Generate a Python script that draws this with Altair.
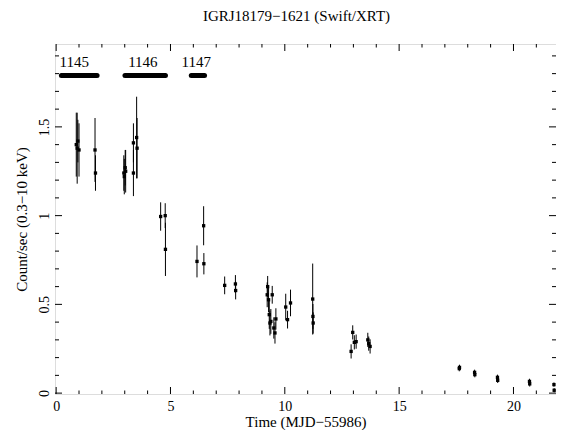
import altair as alt
import pandas as pd

# Light-curve data (Time in MJD-55986, Count/sec 0.3-10 keV, 1-sigma error)
t = [0.88, 0.92, 0.95, 1.00, 1.70, 1.72, 2.96, 2.98, 3.02, 3.04, 3.38, 3.38,
     3.52, 3.54, 4.57, 4.77, 4.78, 6.16, 6.45, 6.46, 7.37, 7.84, 7.85,
     9.23, 9.25, 9.29, 9.32, 9.35, 9.39, 9.45, 9.52, 9.57, 9.61,
     10.04, 10.12, 10.25, 11.22, 11.23, 11.24, 12.90, 12.97, 13.04, 13.12,
     13.63, 13.67, 13.73, 17.63, 17.64, 18.30, 18.31, 19.30, 19.31,
     20.70, 20.71, 21.77, 21.78]
rate = [1.40, 1.38, 1.42, 1.37, 1.37, 1.24, 1.24, 1.22, 1.27, 1.25, 1.41, 1.24,
        1.44, 1.38, 0.995, 1.0, 0.81, 0.742, 0.943, 0.729, 0.607, 0.615, 0.578,
        0.554, 0.60, 0.526, 0.442, 0.395, 0.404, 0.554, 0.367, 0.339, 0.418,
        0.485, 0.414, 0.508, 0.53, 0.432, 0.395, 0.235, 0.342, 0.286, 0.29,
        0.30, 0.279, 0.263, 0.138, 0.145, 0.117, 0.104, 0.089, 0.072,
        0.066, 0.052, 0.048, 0.016]
err = [0.18, 0.2, 0.12, 0.15, 0.18, 0.1, 0.1, 0.1, 0.1, 0.12, 0.11, 0.13,
       0.23, 0.17, 0.08, 0.07, 0.15, 0.09, 0.11, 0.06, 0.05, 0.05, 0.05,
       0.07, 0.06, 0.07, 0.08, 0.07, 0.07, 0.05, 0.06, 0.06, 0.06,
       0.075, 0.05, 0.075, 0.2, 0.07, 0.06, 0.04, 0.04, 0.04, 0.04,
       0.04, 0.04, 0.04, 0.015, 0.015, 0.015, 0.015, 0.015, 0.015,
       0.015, 0.015, 0.012, 0.012]

# Observation segments
obs_labels = ["1145", "1146", "1147"]
obs_start = [0.23, 3.01, 5.91]
obs_end = [1.79, 4.78, 6.49]
obs_level = [1.79, 1.79, 1.79]
obs_label_x = [0.15, 3.15, 5.48]
obs_label_y = [1.836, 1.836, 1.836]

# Tick values
x_major = [0, 5, 10, 15, 20]
x_minor = [1, 2, 3, 4, 6, 7, 8, 9, 11, 12, 13, 14, 16, 17, 18, 19, 21]
y_major = [0, 0.5, 1, 1.5]
y_minor = [0.1, 0.2, 0.3, 0.4, 0.6, 0.7, 0.8, 0.9, 1.1, 1.2, 1.3, 1.4,
           1.6, 1.7, 1.8, 1.9]

W, H = 501, 350
FONT = "Liberation Serif"
X_TITLE = "Time (MJD−55986)"
Y_TITLE = "Count/sec (0.3−10 keV)"

df = pd.DataFrame({"t": t, "rate": rate, "err": err})
df["lo"] = df["rate"] - df["err"]
df["hi"] = df["rate"] + df["err"]

obs = pd.DataFrame({"label": obs_labels, "x0": obs_start, "x1": obs_end,
                    "y": obs_level, "lx": obs_label_x, "ly": obs_label_y})

xs = alt.Scale(domain=[-0.05, 21.86], nice=False, zero=False)
ys = alt.Scale(domain=[-0.005, 1.967], nice=False, zero=False)

x_axis = alt.Axis(values=x_major, format="d",
                  ticks=False, tickSize=0, domain=False, grid=False,
                  labelFontSize=14, labelPadding=5, labelColor="black",
                  labelFont=FONT, titleFont=FONT, titleFontSize=15,
                  titleFontWeight="normal", titleColor="black",
                  titleBaseline="alphabetic", titleY=32)
y_axis = alt.Axis(values=y_major,
                  format="~g", ticks=False, tickSize=0, domain=False,
                  grid=False, labelFontSize=14, labelPadding=7,
                  labelAngle=270, labelAlign="center",
                  labelBaseline="alphabetic", labelColor="black",
                  labelFont=FONT, titleFont=FONT, titleFontSize=15,
                  titleFontWeight="normal", titleColor="black",
                  titleBaseline="alphabetic", titleX=-29)


def X(field):
    return alt.X(field, scale=xs, axis=x_axis, title=X_TITLE)


def Y(field):
    return alt.Y(field, scale=ys, axis=y_axis, title=Y_TITLE)


base = alt.Chart(df)

points = base.mark_square(size=11, color="black", opacity=1).encode(
    x=X("t:Q"), y=Y("rate:Q"))

errbars = base.mark_rule(color="black", strokeWidth=1).encode(
    x=X("t:Q"), y=Y("lo:Q"), y2="hi:Q")

obs_bars = alt.Chart(obs).mark_rule(color="black", strokeWidth=5,
                                    strokeCap="round").encode(
    x=X("x0:Q"), x2="x1:Q", y=Y("y:Q"))

obs_text = alt.Chart(obs).mark_text(font=FONT, fontSize=15, align="left",
                                    baseline="alphabetic", color="black").encode(
    x=X("lx:Q"), y=Y("ly:Q"), text="label:N")


def xticks(vals, length):
    d = alt.Chart(pd.DataFrame({"v": vals}))
    bottom = d.mark_rule(color="black", strokeWidth=1).encode(
        x=X("v:Q"), y=alt.value(H), y2=alt.value(H - length))
    top = d.mark_rule(color="black", strokeWidth=1).encode(
        x=X("v:Q"), y=alt.value(0), y2=alt.value(length))
    return [bottom, top]


def yticks(vals, length):
    d = alt.Chart(pd.DataFrame({"v": vals}))
    left = d.mark_rule(color="black", strokeWidth=1).encode(
        y=Y("v:Q"), x=alt.value(0), x2=alt.value(length))
    right = d.mark_rule(color="black", strokeWidth=1).encode(
        y=Y("v:Q"), x=alt.value(W), x2=alt.value(W - length))
    return [left, right]


tick_layers = (xticks(x_major, 7) + xticks(x_minor, 3.5)
               + yticks(y_major, 7) + yticks(y_minor, 4))

chart = alt.layer(points, errbars, obs_bars, obs_text, *tick_layers).properties(
    width=W, height=H,
    title=alt.TitleParams("IGRJ18179−1621 (Swift/XRT)", font=FONT, fontSize=15,
                          fontWeight="normal", color="black", anchor="middle",
                          frame="group", baseline="alphabetic", offset=8,
                          dx=-9),
    autosize=alt.AutoSizeParams(type="none"),
    padding={"left": 47, "top": 36, "right": 0, "bottom": 36},
).configure_view(stroke="black", strokeWidth=1).configure(background="white")

chart.save("out.html", embed_options={"renderer": "svg", "actions": False})
